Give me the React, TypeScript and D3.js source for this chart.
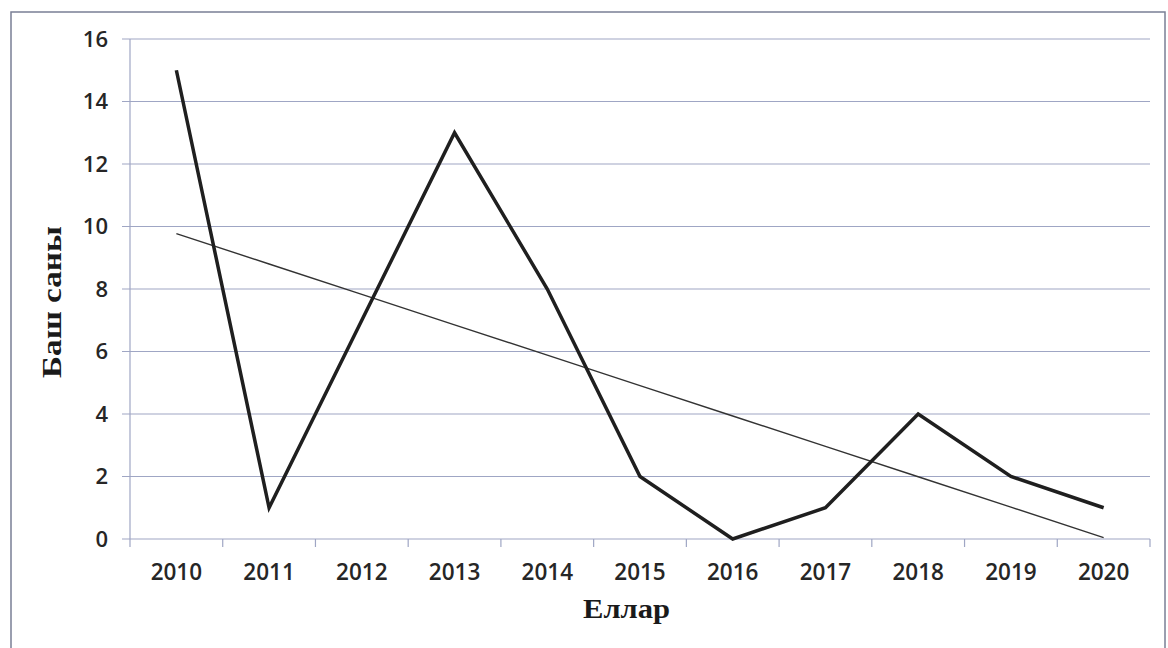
import React from "react";
import * as d3 from "d3";

const years = ["2010", "2011", "2012", "2013", "2014", "2015", "2016", "2017", "2018", "2019", "2020"];
const counts = [15, 1, 7, 13, 8, 2, 0, 1, 4, 2, 1];
const yTicks = [0, 2, 4, 6, 8, 10, 12, 14, 16];
const xTitle = "Еллар";
const yTitle = "Баш саны";

export default function App() {
  const W = 1168, H = 648;
  const left = 130, right = 1150, top = 39, bottom = 539;
  const x = d3.scaleBand<string>().domain(years).range([left, right]);
  const y = d3.scaleLinear().domain([0, 16]).range([bottom, top]);
  const cx = (yr: string) => (x(yr) as number) + x.bandwidth() / 2;

  const line = d3.line<number>().x((_, i) => cx(years[i])).y((v) => y(v));

  // linear trend
  const xs = counts.map((_, i) => i);
  const mx = d3.mean(xs) as number;
  const my = d3.mean(counts) as number;
  const sxy = d3.sum(xs.map((xi, i) => (xi - mx) * (counts[i] - my)));
  const sxx = d3.sum(xs.map((xi) => (xi - mx) ** 2));
  const slope = sxy / sxx;
  const icpt = my - slope * mx;
  const trend = xs.map((xi) => icpt + slope * xi);

  const gridColor = "#9fa6c4";
  const tickFont = "'Open Sans', 'Liberation Sans', sans-serif";

  return (
    <svg width={W} height={H} style={{ position: "absolute", left: 0, top: 0, background: "#fff" }}>
      <rect x={11} y={12} width={1154} height={660} fill="none" stroke="#7a7f95" strokeWidth={1.5} />
      {yTicks.map((t) => (
        <g key={t}>
          <line x1={122} x2={right} y1={y(t)} y2={y(t)} stroke={gridColor} strokeWidth={1.2} />
          <text x={108} y={y(t)} dy="0.36em" textAnchor="end" fontFamily={tickFont} fontSize={22} fontWeight={600} fill="#262626">
            {t}
          </text>
        </g>
      ))}
      <line x1={left} x2={left} y1={top} y2={bottom} stroke={gridColor} strokeWidth={1.2} />
      {years.map((yr, i) => (
        <line key={"t" + i} x1={x(yr) as number} x2={x(yr) as number} y1={bottom} y2={bottom + 8} stroke={gridColor} strokeWidth={1.2} />
      ))}
      <line x1={right} x2={right} y1={bottom} y2={bottom + 8} stroke={gridColor} strokeWidth={1.2} />
      {years.map((yr) => (
        <text key={yr} x={cx(yr)} y={580} textAnchor="middle" fontFamily={tickFont} fontSize={22.5} fontWeight={600} fill="#262626">
          {yr}
        </text>
      ))}
      <path d={line(trend) as string} fill="none" stroke="#333" strokeWidth={1.4} />
      <path d={line(counts) as string} fill="none" stroke="#1f1f1f" strokeWidth={3.5} strokeLinejoin="miter" />
      <text
        x={583}
        y={618}
        textLength={87}
        lengthAdjust="spacingAndGlyphs"
        fontFamily="'Liberation Serif', serif"
        fontWeight="bold"
        fontSize={27}
        fill="#1a1a1a"
      >
        {xTitle}
      </text>
      <text
        transform={`translate(61, 302) rotate(-90)`}
        x={-76}
        textLength={152}
        lengthAdjust="spacingAndGlyphs"
        fontFamily="'Liberation Serif', serif"
        fontWeight="bold"
        fontSize={27}
        fill="#1a1a1a"
      >
        {yTitle}
      </text>
    </svg>
  );
}
